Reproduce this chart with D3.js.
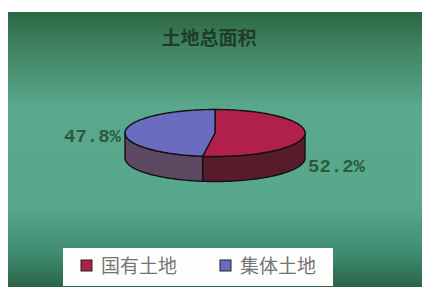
<!DOCTYPE html>
<html>
<head>
<meta charset="utf-8">
<script src="https://cdn.jsdelivr.net/npm/d3@7"></script>
<style>
  html, body { margin: 0; padding: 0; background: #fff; }
  svg { display: block; }
</style>
</head>
<body>
<script>
// 3D pie: land area split
var title = "土地总面积";
var categories = ["国有土地", "集体土地"];
var values = [52.2, 47.8];
var labels = ["52.2%", "47.8%"];

var W = 422, H = 287;
var topColors = ["#b1204a", "#6a6cc0"],
    sideColors = ["#581b2c", "#5c4860"];

var svg = d3.select("body").append("svg")
    .attr("width", W)
    .attr("height", H);

var defs = svg.append("defs");
var grad = defs.append("linearGradient")
    .attr("id", "bg").attr("x1", 0).attr("y1", 0).attr("x2", 0).attr("y2", 1);
[[0, "#2c6643"], [0.12, "#3f8260"], [0.35, "#5aa88e"], [0.7, "#58a88e"], [0.88, "#3f8c70"], [1, "#2a6448"]]
  .forEach(function(s){ grad.append("stop").attr("offset", s[0]).attr("stop-color", s[1]); });

svg.append("rect")
    .attr("x", 8).attr("y", 12)
    .attr("width", W - 8).attr("height", H - 12)
    .attr("fill", "url(#bg)");

svg.append("text")
    .attr("x", 209).attr("y", 45)
    .attr("text-anchor", "middle")
    .style("font-family", "'Noto Sans CJK SC'")
    .style("font-size", "19px")
    .style("font-weight", "bold")
    .attr("fill", "#203c2a")
    .text(title);

// pie geometry
var cx = 215, cy = 133, rx = 90, ry = 23.5, depth = 25;

var pie = d3.pie().sort(null).value(function(d){ return d; });
var arcs = pie(values);

function pt(a, dy){
  return [cx + rx * Math.sin(a), cy - ry * Math.cos(a) + (dy || 0)];
}
function arcPts(a0, a1, dy){
  var n = Math.max(2, Math.ceil(Math.abs(a1 - a0) / 0.03)), out = [];
  for (var i = 0; i <= n; i++) out.push(pt(a0 + (a1 - a0) * i / n, dy));
  return out;
}
var line = d3.line();

var g = svg.append("g");

// sides (front half only: angles PI/2..3PI/2)
arcs.forEach(function(d, i){
  var a0 = Math.max(d.startAngle, Math.PI / 2),
      a1 = Math.min(d.endAngle, Math.PI * 1.5);
  if (a1 <= a0) return;
  var top = arcPts(a0, a1, 0),
      bot = arcPts(a1, a0, depth);
  g.append("path")
      .attr("d", line(top.concat(bot)) + "Z")
      .attr("fill", sideColors[i])
      .attr("stroke", "#111")
      .attr("stroke-width", 1.4)
      .attr("stroke-linejoin", "round");
});

// tops
arcs.forEach(function(d, i){
  var p = [[cx, cy]].concat(arcPts(d.startAngle, d.endAngle, 0));
  g.append("path")
      .attr("d", line(p) + "Z")
      .attr("fill", topColors[i])
      .attr("stroke", "#111")
      .attr("stroke-width", 1.4)
      .attr("stroke-linejoin", "round");
});

// percentage labels
var labelPos = [[308, 172, "start"], [121, 142, "end"]];
labels.forEach(function(t, i){
  svg.append("text")
      .attr("x", labelPos[i][0]).attr("y", labelPos[i][1])
      .attr("text-anchor", labelPos[i][2])
      .style("font-family", "'Liberation Mono', monospace")
      .style("font-size", "19px")
      .style("font-weight", "bold")
      .attr("fill", "#2b5a3c")
      .text(t);
});

// legend
var lg = svg.append("g");
lg.append("rect")
    .attr("x", 63).attr("y", 248)
    .attr("width", 270).attr("height", 38)
    .attr("fill", "#fdfdfb");

var legendX = d3.scalePoint().domain(categories).range([81, 220]);
categories.forEach(function(c, i){
  var x = legendX(c);
  lg.append("rect")
      .attr("x", x).attr("y", 260)
      .attr("width", 11).attr("height", 11)
      .attr("fill", topColors[i])
      .attr("stroke", "#222").attr("stroke-width", 1);
  lg.append("text")
      .attr("x", x + 20).attr("y", 273)
      .style("font-family", "'Noto Sans CJK SC'")
      .style("font-size", "19px")
      .attr("fill", "#747474")
      .text(c);
});
</script>
</body>
</html>
